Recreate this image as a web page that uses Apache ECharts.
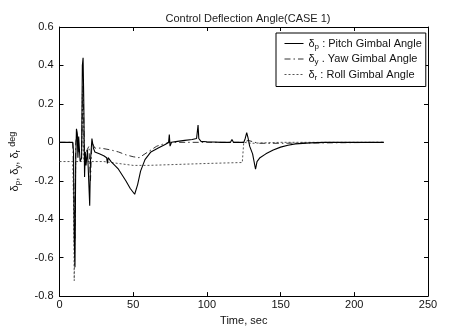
<!DOCTYPE html>
<html>
<head>
    <meta http-equiv="content-type" content="text/html;charset=utf-8" />
    <title>Control Deflection Angle</title>
    <script src="https://cdn.jsdelivr.net/npm/echarts@6/dist/echarts.min.js"></script>
    <style>
        html, body { margin: 0; padding: 0; background: #fff; }
    </style>
</head>
<body>
    <div id="main" style="width: 462px;height:331px;"></div>
    <script type="text/javascript">
        // values (time in sec, angle in deg)
        var pitchT = [0, 5, 9, 9.5, 10, 10.5, 11, 11.5, 12, 12.5, 13, 14, 15, 15.5, 16, 16.5, 17, 17.5, 18, 19, 20, 20.5, 21, 22, 23, 24, 27, 30, 32, 32.5, 33, 35, 40, 45, 48, 51, 53, 55, 58, 62, 67, 72, 74, 74.5, 75, 76, 80, 85, 90, 93, 94, 94.5, 96, 100, 110, 116, 117, 118, 125, 126, 127, 128, 129, 131, 133, 134, 136, 140, 145, 150, 155, 160, 170, 180, 200, 220];
        var pitchV = [0, 0, 0, -0.05, -0.5, -0.65, -0.1, 0.07, 0.05, -0.08, 0.03, -0.1, -0.08, 0.4, 0.44, 0.2, -0.18, -0.05, -0.12, -0.04, -0.05, -0.33, -0.1, 0.02, -0.03, -0.05, -0.06, -0.07, -0.08, -0.11, -0.08, -0.1, -0.14, -0.2, -0.24, -0.27, -0.22, -0.15, -0.09, -0.05, -0.03, -0.01, 0, 0.04, -0.02, 0, 0.005, 0.01, 0.015, 0.02, 0.09, 0.02, 0.005, 0.003, 0, 0, 0.015, 0, 0, 0.02, 0.05, 0.02, -0.02, -0.06, -0.14, -0.1, -0.08, -0.06, -0.04, -0.025, -0.015, -0.008, -0.003, 0, 0, 0];

        var yawT = [0, 9, 10, 10.5, 11, 12, 13, 15, 16, 17, 18, 20, 21, 22, 24, 28, 35, 40, 45, 50, 54, 58, 62, 66, 70, 75, 100, 125, 128, 135, 150, 220];
        var yawV = [0, 0, -0.3, -0.5, 0, 0.05, -0.05, -0.05, 0.3, -0.1, -0.05, -0.02, -0.2, 0, -0.03, -0.03, -0.04, -0.05, -0.065, -0.075, -0.08, -0.06, -0.04, -0.02, -0.01, 0, 0, 0, 0.01, -0.005, -0.005, 0];

        var rollT = [0, 9, 9.5, 10, 10.5, 11, 15, 15.5, 16, 16.5, 20, 30, 40, 50, 60, 80, 100, 124, 125, 130, 150, 220];
        var rollV = [-0.1, -0.1, -0.3, -0.72, -0.4, -0.1, -0.1, 0.25, 0.1, -0.1, -0.1, -0.1, -0.11, -0.12, -0.12, -0.115, -0.11, -0.105, 0, -0.005, 0, 0];

        function zip(t, v) {
            var out = [];
            for (var i = 0; i < t.length; i++) out.push([t[i], v[i]]);
            return out;
        }

        var font = 'Liberation Sans, Arial, sans-serif';
        var myChart = echarts.init(document.getElementById('main'));

        var tickCfg = { show: true, inside: true, length: 4, lineStyle: { color: '#000' } };
        var lineCfg = { show: true, onZero: false, lineStyle: { color: '#000', width: 1 } };

        var option = {
            backgroundColor: '#fff',
            animation: false,
            textStyle: { fontFamily: font },
            title: {
                text: 'Control Deflection Angle(CASE 1)',
                left: 243, top: 8, textAlign: 'center',
                textStyle: { fontSize: 11, fontWeight: 'normal', color: '#222', fontFamily: font }
            },
            grid: { left: 59, right: 34, top: 27, bottom: 33 },
            legend: {
                orient: 'vertical',
                left: 276, top: 33,
                padding: [5, 4, 5, 8],
                itemGap: 3,
                itemWidth: 19, itemHeight: 10,
                backgroundColor: '#fff',
                borderColor: '#000', borderWidth: 1,
                itemStyle: { opacity: 0 },
                lineStyle: { width: 1 },
                textStyle: {
                    fontSize: 11, color: '#111', fontFamily: font,
                    rich: {
                        s: { fontSize: 8, verticalAlign: 'bottom', padding: [6, 0, 0, 0], fontFamily: font, color: '#111' }
                    }
                },
                formatter: function (name) {
                    if (name === 'pitch') return 'δ{s|p} : Pitch Gimbal Angle';
                    if (name === 'yaw') return 'δ{s|y} . Yaw Gimbal Angle';
                    return 'δ{s|r} : Roll Gimbal Angle';
                },
                data: ['pitch', 'yaw', 'roll']
            },
            xAxis: [{
                type: 'value', min: 0, max: 250, interval: 50,
                name: 'Time, sec', nameLocation: 'middle', nameGap: 17,
                nameTextStyle: { fontSize: 11, color: '#111', fontFamily: font },
                axisLine: lineCfg, axisTick: tickCfg,
                axisLabel: { fontSize: 11, color: '#111', margin: 3, fontFamily: font },
                splitLine: { show: false }
            }, {
                type: 'value', position: 'top', min: 0, max: 250, interval: 50,
                axisLine: lineCfg, axisTick: tickCfg,
                axisLabel: { show: false }, splitLine: { show: false }
            }],
            yAxis: [{
                type: 'value', min: -0.8, max: 0.6, interval: 0.2,
                name: 'δ{s|p}, δ{s|y}, δ{s|r} {d|deg}', nameLocation: 'middle', nameGap: 38, nameRotate: 90,
                nameTextStyle: {
                    fontSize: 11, color: '#111', fontFamily: font,
                    rich: {
                        s: { fontSize: 8, padding: [6, 0, 0, 0], fontFamily: font, color: '#111' },
                        d: { fontSize: 9, padding: [0, 0, 4, 0], fontFamily: font, color: '#111' }
                    }
                },
                axisLine: lineCfg, axisTick: tickCfg,
                axisLabel: {
                    fontSize: 11, color: '#111', margin: 6, fontFamily: font,
                    formatter: function (v) { return String(Math.round(v * 10) / 10); }
                },
                splitLine: { show: false }
            }, {
                type: 'value', position: 'right', min: -0.8, max: 0.6, interval: 0.2,
                axisLine: lineCfg, axisTick: tickCfg,
                axisLabel: { show: false }, splitLine: { show: false }
            }],
            series: [{
                name: 'roll', type: 'line', showSymbol: false, symbol: 'none',
                data: zip(rollT, rollV),
                lineStyle: { color: '#555', width: 1, type: [2, 2] },
                itemStyle: { color: '#555' }
            }, {
                name: 'yaw', type: 'line', showSymbol: false, symbol: 'none',
                data: zip(yawT, yawV),
                lineStyle: { color: '#333', width: 1, type: [6, 3, 1.5, 3] },
                itemStyle: { color: '#333' }
            }, {
                name: 'pitch', type: 'line', showSymbol: false, symbol: 'none',
                data: zip(pitchT, pitchV),
                lineStyle: { color: '#000', width: 1.1 },
                itemStyle: { color: '#000' }
            }]
        };

        myChart.setOption(option);
    </script>
</body>
</html>
